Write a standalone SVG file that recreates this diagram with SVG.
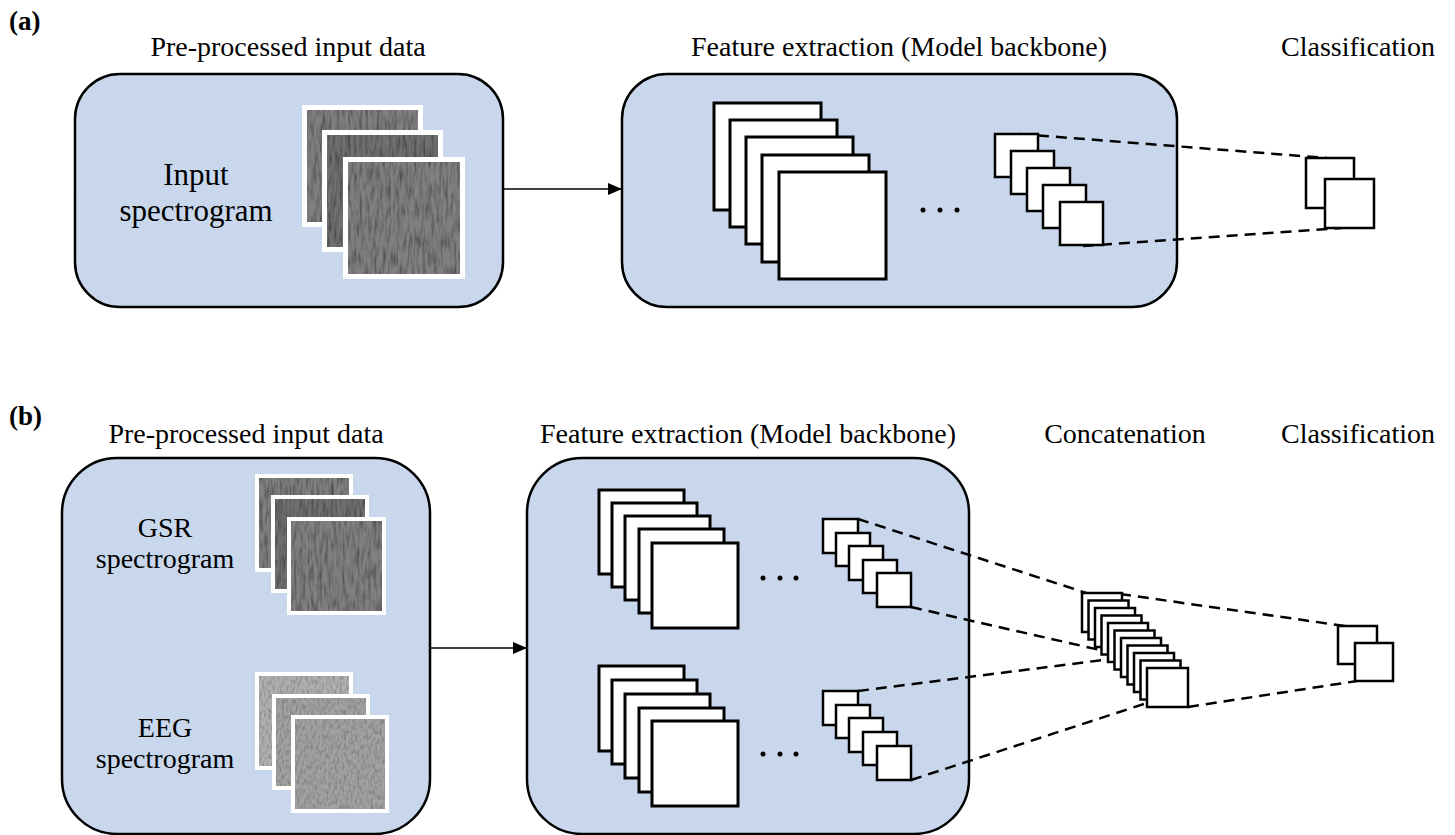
<svg xmlns="http://www.w3.org/2000/svg" width="1455" height="835" viewBox="0 0 1455 835">
<defs>
<style>
text{font-family:"Liberation Serif","Times New Roman",serif;fill:#000}
.t{font-size:28px;text-anchor:middle}
.lbl{font-size:27px;font-weight:bold}
.box{fill:#c8d7ec;stroke:#000;stroke-width:2.5}
.sq{fill:#fff;stroke:#000;stroke-width:3}
.ss{fill:#fff;stroke:#000;stroke-width:2.5}
.dash{fill:none;stroke:#000;stroke-width:2.5;stroke-dasharray:11 7}
.arr{fill:none;stroke:#000;stroke-width:1.5}
.frame{fill:#fff}
.dk{fill:#6f6f6f}
.md{fill:#808080}
.lt{fill:#b0b0b0}
.lt2{fill:#a2a2a2}
</style>
<marker id="ah" viewBox="0 0 14 12" refX="14" refY="6" markerWidth="14" markerHeight="12" markerUnits="userSpaceOnUse" orient="auto">
<path d="M0,0 L14,6 L0,12 z" fill="#000"/>
</marker>
<filter id="grain" x="0" y="0" width="1" height="1">
<feTurbulence type="fractalNoise" baseFrequency="0.35 0.06" numOctaves="2" seed="4" result="n"/>
<feColorMatrix in="n" type="matrix" values="0 0 0 0 0  0 0 0 0 0  0 0 0 0 0  1.4 0 0 0 -0.55" result="a"/>
<feComposite in="a" in2="SourceGraphic" operator="in" result="c"/>
<feMerge><feMergeNode in="SourceGraphic"/><feMergeNode in="c"/></feMerge>
</filter>
<filter id="grain2" x="0" y="0" width="1" height="1">
<feTurbulence type="fractalNoise" baseFrequency="0.45 0.2" numOctaves="2" seed="9" result="n"/>
<feColorMatrix in="n" type="matrix" values="0 0 0 0 0  0 0 0 0 0  0 0 0 0 0  1.0 0 0 0 -0.4" result="a"/>
<feComposite in="a" in2="SourceGraphic" operator="in" result="c"/>
<feMerge><feMergeNode in="SourceGraphic"/><feMergeNode in="c"/></feMerge>
</filter>
</defs>
<rect width="1455" height="835" fill="#fff"/>

<g id="panel-labels">
<text class="lbl" x="9" y="30">(a)</text>
<text class="lbl" x="9" y="425">(b)</text>
</g>

<g id="titles">
<text class="t" x="288" y="56">Pre-processed input data</text>
<text class="t" x="899" y="56">Feature extraction (Model backbone)</text>
<text class="t" x="1358" y="56">Classification</text>
<text class="t" x="246" y="443">Pre-processed input data</text>
<text class="t" x="748" y="443">Feature extraction (Model backbone)</text>
<text class="t" x="1125" y="443">Concatenation</text>
<text class="t" x="1358" y="443">Classification</text>
</g>

<g id="a-input-box"><rect class="box" x="75" y="74" width="428" height="233" rx="45"/></g>
<g id="a-feature-box"><rect class="box" x="622" y="74" width="555" height="233" rx="45"/></g>
<g id="b-input-box"><rect class="box" x="62" y="458" width="368" height="376" rx="55"/></g>
<g id="b-feature-box"><rect class="box" x="527" y="458" width="442" height="376" rx="55"/></g>

<g id="connectors">
<line class="arr" x1="503" y1="189" x2="622" y2="189" marker-end="url(#ah)"/>
<line class="arr" x1="430" y1="648" x2="527" y2="648" marker-end="url(#ah)"/>
<line class="dash" x1="1020" y1="134" x2="1327" y2="158"/>
<line class="dash" x1="1083" y1="246" x2="1342" y2="228"/>
<line class="dash" x1="858" y1="519" x2="1102" y2="598"/>
<line class="dash" x1="911" y1="607" x2="1100" y2="650"/>
<line class="dash" x1="858" y1="691" x2="1103" y2="660"/>
<line class="dash" x1="911" y1="780" x2="1150" y2="702"/>
<line class="dash" x1="1120" y1="594" x2="1345" y2="626"/>
<line class="dash" x1="1188" y1="707" x2="1357" y2="681"/>
</g>

<g id="a-input-spectrogram">
<text x="196" y="185" font-size="31" text-anchor="middle">Input</text>
<text x="196" y="221" font-size="31" text-anchor="middle">spectrogram</text>
<rect class="frame" x="302" y="105" width="121" height="122"/>
<rect class="md" x="307" y="110" width="111" height="112" filter="url(#grain)"/>
<rect class="frame" x="322" y="130" width="121" height="122"/>
<rect class="dk" x="327" y="135" width="111" height="112" filter="url(#grain)"/>
<rect class="frame" x="343" y="157" width="122" height="122"/>
<rect class="md" x="348" y="162" width="112" height="112" filter="url(#grain)"/>
</g>

<g id="a-feature-maps">
<rect class="sq" x="714" y="103" width="107" height="107"/>
<rect class="sq" x="730" y="120" width="107" height="107"/>
<rect class="sq" x="746" y="137" width="107" height="107"/>
<rect class="sq" x="762" y="155" width="107" height="107"/>
<rect class="sq" x="779" y="172" width="107" height="107"/>
<circle cx="923" cy="210" r="2.5"/>
<circle cx="940" cy="210" r="2.5"/>
<circle cx="957" cy="210" r="2.5"/>
<rect class="ss" x="995" y="134" width="43" height="43"/>
<rect class="ss" x="1011" y="151" width="43" height="43"/>
<rect class="ss" x="1027" y="168" width="43" height="43"/>
<rect class="ss" x="1043" y="185" width="43" height="43"/>
<rect class="ss" x="1060" y="202" width="43" height="43"/>
</g>

<g id="a-classification">
<rect class="ss" x="1306" y="158" width="48" height="50"/>
<rect class="ss" x="1325" y="179" width="49" height="49"/>
</g>

<g id="b-gsr-spectrogram">
<text x="165" y="537" class="t">GSR</text>
<text x="165" y="568" class="t">spectrogram</text>
<rect class="frame" x="255" y="474" width="98" height="98"/>
<rect class="md" x="259" y="478" width="90" height="90" filter="url(#grain)"/>
<rect class="frame" x="271" y="495" width="98" height="98"/>
<rect class="dk" x="275" y="499" width="90" height="90" filter="url(#grain)"/>
<rect class="frame" x="287" y="517" width="99" height="98"/>
<rect class="md" x="291" y="521" width="91" height="90" filter="url(#grain)"/>
</g>

<g id="b-eeg-spectrogram">
<text x="165" y="737" class="t">EEG</text>
<text x="165" y="768" class="t">spectrogram</text>
<rect class="frame" x="255" y="672" width="98" height="98"/>
<rect class="lt" x="259" y="676" width="90" height="90" filter="url(#grain2)"/>
<rect class="frame" x="272" y="694" width="98" height="96"/>
<rect class="lt2" x="276" y="698" width="90" height="88" filter="url(#grain2)"/>
<rect class="frame" x="291" y="715" width="98" height="98"/>
<rect class="lt2" x="295" y="719" width="90" height="90" filter="url(#grain2)"/>
</g>

<g id="b-gsr-feature-maps">
<rect class="sq" x="599" y="490" width="85" height="84"/>
<rect class="sq" x="612" y="503" width="85" height="84"/>
<rect class="sq" x="625" y="516" width="85" height="84"/>
<rect class="sq" x="639" y="529" width="85" height="84"/>
<rect class="sq" x="652" y="543" width="86" height="85"/>
<circle cx="763" cy="578" r="2.5"/>
<circle cx="780" cy="578" r="2.5"/>
<circle cx="796" cy="578" r="2.5"/>
<rect class="ss" x="823" y="519" width="35" height="34"/>
<rect class="ss" x="836" y="533" width="34" height="33"/>
<rect class="ss" x="849" y="546" width="34" height="34"/>
<rect class="ss" x="863" y="560" width="34" height="33"/>
<rect class="ss" x="877" y="573" width="34" height="34"/>
</g>

<g id="b-eeg-feature-maps">
<rect class="sq" x="599" y="666" width="85" height="85"/>
<rect class="sq" x="612" y="680" width="85" height="84"/>
<rect class="sq" x="625" y="694" width="85" height="84"/>
<rect class="sq" x="639" y="708" width="85" height="84"/>
<rect class="sq" x="652" y="721" width="86" height="85"/>
<circle cx="763" cy="754" r="2.5"/>
<circle cx="780" cy="754" r="2.5"/>
<circle cx="796" cy="754" r="2.5"/>
<rect class="ss" x="823" y="691" width="35" height="34"/>
<rect class="ss" x="836" y="705" width="34" height="33"/>
<rect class="ss" x="849" y="718" width="34" height="34"/>
<rect class="ss" x="863" y="732" width="34" height="33"/>
<rect class="ss" x="877" y="746" width="34" height="34"/>
</g>

<g id="b-concatenation">
<rect class="ss" x="1082" y="593" width="40" height="39"/>
<rect class="ss" x="1088.5" y="600.5" width="40" height="39"/>
<rect class="ss" x="1095" y="608" width="40" height="39"/>
<rect class="ss" x="1101.5" y="615.5" width="40" height="39"/>
<rect class="ss" x="1108" y="623" width="40" height="39"/>
<rect class="ss" x="1114.5" y="630.5" width="40" height="39"/>
<rect class="ss" x="1121" y="638" width="40" height="39"/>
<rect class="ss" x="1127.5" y="645.5" width="40" height="39"/>
<rect class="ss" x="1134" y="653" width="40" height="39"/>
<rect class="ss" x="1140.5" y="660.5" width="40" height="39"/>
<rect class="ss" x="1147" y="668" width="41" height="39"/>
</g>

<g id="b-classification">
<rect class="ss" x="1338" y="626" width="39" height="38"/>
<rect class="ss" x="1355" y="643" width="38" height="38"/>
</g>
</svg>
